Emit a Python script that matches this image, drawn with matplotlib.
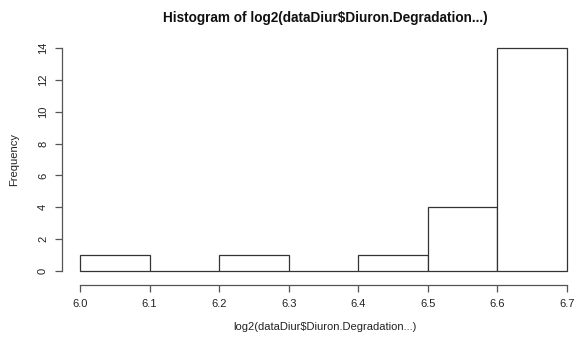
import matplotlib
matplotlib.use("Agg")
import matplotlib.pyplot as plt

# histogram of log2 degradation values, 0.1 wide bins
bin_edges = [6.0, 6.1, 6.2, 6.3, 6.4, 6.5, 6.6, 6.7]
counts = [1, 0, 1, 0, 1, 4, 14]
x_ticks = [6.0, 6.1, 6.2, 6.3, 6.4, 6.5, 6.6, 6.7]
y_ticks = [0, 2, 4, 6, 8, 10, 12, 14]
title = "Histogram of log2(dataDiur$Diuron.Degradation...)"
xlabel = "log2(dataDiur$Diuron.Degradation...)"
ylabel = "Frequency"

plt.rcParams['font.family'] = ['Liberation Sans', 'DejaVu Sans']

W, H = 579, 337
fig = plt.figure(figsize=(W / 100, H / 100), dpi=100)
ax = fig.add_axes([62 / W, (H - 285) / H, (W - 62) / W, (285 - 40) / H])

lefts = bin_edges[:-1]
widths = [b - a for a, b in zip(bin_edges[:-1], bin_edges[1:])]
ax.bar(lefts, counts, width=widths, align='edge', facecolor='white',
       edgecolor='#333333', linewidth=0.9)

# pixel mapping: 6.0 -> x=80, 6.7 -> x=567 ; 0 -> y=271, 14 -> y=48
pxu = (567 - 80) / 0.7
ax.set_xlim(6.0 - 18 / pxu, 6.7 + 12 / pxu)
pyu = (271 - 48) / 14
ax.set_ylim(-14 / pyu, 14 + 8 / pyu)

for s in ['top', 'right']:
    ax.spines[s].set_visible(False)
ax.spines['left'].set_bounds(0, 14)
ax.spines['bottom'].set_bounds(6.0, 6.7)
for s in ['left', 'bottom']:
    ax.spines[s].set_color('#555555')
    ax.spines[s].set_linewidth(0.9)

ax.set_xticks(x_ticks)
ax.set_xticklabels([f"{v:.1f}" for v in x_ticks])
ax.set_yticks(y_ticks)
ax.set_yticklabels([str(v) for v in y_ticks], rotation=90, va='center')
ax.tick_params(direction='out', length=5, width=0.9, color='#555555',
               labelsize=8, labelcolor='#222222', pad=5)

fig.text(325 / W, 1 - 18 / H, title, ha='center', va='center',
         fontsize=9.8, fontweight='bold', color='#111111')
fig.text(325 / W, 1 - 327 / H, xlabel, ha='center', va='center',
         fontsize=8, color='#222222')
fig.text(14 / W, 1 - 160 / H, ylabel, ha='center', va='center',
         rotation=90, fontsize=8, color='#222222')

fig.savefig("out.png", dpi=100)
